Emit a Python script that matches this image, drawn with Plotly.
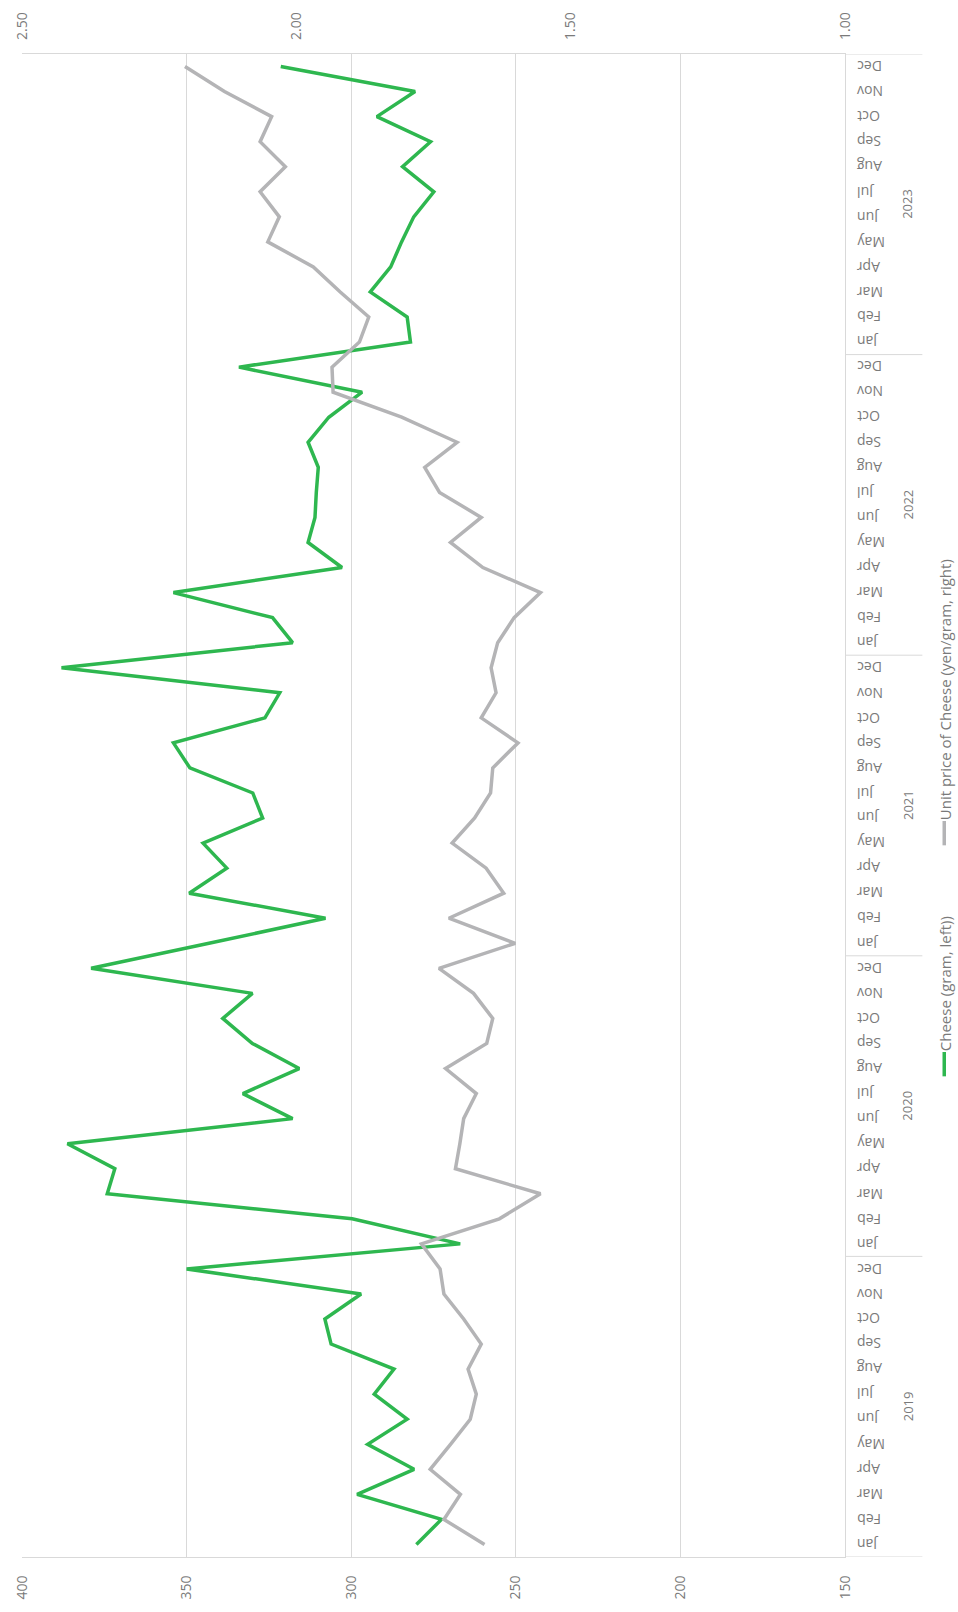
import plotly.graph_objects as go

# Monthly household cheese purchases and unit price, Jan 2019 - Dec 2023
years = ["2019", "2020", "2021", "2022", "2023"]
months = ["Jan", "Feb", "Mar", "Apr", "May", "Jun",
          "Jul", "Aug", "Sep", "Oct", "Nov", "Dec"]

# Cheese purchased (gram) - left axis
cheese_grams = [
    280.2, 272.6, 298.2, 280.9, 295.0, 283.0, 293.0, 287.0, 306.1, 308.0, 297.0, 350.0,
    266.9, 299.7, 374.1, 371.8, 386.2, 317.8, 332.9, 315.8, 330.0, 339.0, 330.0, 379.0,
    343.2, 307.8, 349.2, 337.8, 345.0, 326.9, 329.9, 349.0, 354.0, 326.2, 321.7, 388.0,
    317.8, 323.9, 354.0, 302.8, 313.1, 311.0, 310.6, 310.0, 313.1, 306.8, 296.7, 334.1,
    282.0, 283.0, 294.2, 288.0, 284.7, 281.0, 274.9, 284.4, 275.9, 292.2, 280.6, 321.4,
]

# Unit price of cheese (yen/gram) - right axis
cheese_unit_price = [
    1.657, 1.731, 1.701, 1.756, 1.719, 1.683, 1.672, 1.687, 1.663, 1.695, 1.731, 1.738,
    1.772, 1.630, 1.555, 1.710, 1.702, 1.695, 1.672, 1.728, 1.653, 1.642, 1.677, 1.740,
    1.601, 1.722, 1.622, 1.654, 1.716, 1.675, 1.646, 1.642, 1.596, 1.663, 1.636, 1.645,
    1.633, 1.603, 1.555, 1.660, 1.719, 1.663, 1.739, 1.766, 1.707, 1.808, 1.933, 1.935,
    1.885, 1.868, 1.920, 1.969, 2.052, 2.031, 2.066, 2.020, 2.066, 2.045, 2.131, 2.203,
]

left_ticks = [150, 200, 250, 300, 350, 400]
right_ticks = [1.00, 1.50, 2.00, 2.50]

series_names = ["Cheese (gram, left))", "Unit price of Cheese (yen/gram, right)"]

GREEN = "#2eb74f"
GREY = "#b4b4b6"
TEXT = "#7a7a7a"
GRID = "#d9d9d9"
FONT = "Open Sans"

n = len(cheese_grams)
pos = list(range(n))
month_labels = [months[i % 12] for i in pos]

fig = go.Figure()
fig.add_trace(go.Scatter(
    x=cheese_grams, y=pos, xaxis="x", yaxis="y", mode="lines",
    name=series_names[0], line=dict(color=GREEN, width=3.5),
))
fig.add_trace(go.Scatter(
    x=cheese_unit_price, y=pos, xaxis="x2", yaxis="y", mode="lines",
    name=series_names[1], line=dict(color=GREY, width=3.5),
))

annotations = []
shapes = []

# upside-down month labels, left-aligned just right of the category axis
for i, m in zip(pos, month_labels):
    annotations.append(dict(
        text=m, x=1.0121, xref="paper", y=i, yref="y",
        textangle=180, showarrow=False, xanchor="left", yanchor="middle",
        font=dict(family=FONT, size=14, color=TEXT),
    ))

# year labels and the separators between years
for k, yr in enumerate(years):
    annotations.append(dict(
        text=yr, x=1.0760, xref="paper", y=12 * k + 5.5, yref="y",
        textangle=-90, showarrow=False, xanchor="center", yanchor="middle",
        font=dict(family=FONT, size=13, color=TEXT),
    ))
for k in range(len(years) + 1):
    shapes.append(dict(
        type="line", xref="paper", yref="y", x0=1.0, x1=1.094,
        y0=12 * k - 0.5, y1=12 * k - 0.5, line=dict(color=GRID, width=1),
    ))

# vertical legend at the right edge: (label, colour, line bottom, line top)
legend_items = [
    (series_names[0], GREEN, 0.3198, 0.3360),
    (series_names[1], GREY, 0.4735, 0.4897),
]
for label, colour, ly0, ly1 in legend_items:
    annotations.append(dict(
        text=label, x=1.1218, xref="paper", y=ly1 - 0.001, yref="paper",
        textangle=-90, showarrow=False, xanchor="center", yanchor="bottom",
        font=dict(family=FONT, size=15, color=TEXT),
    ))
    shapes.append(dict(
        type="line", xref="paper", yref="paper", x0=1.1206, x1=1.1206,
        y0=ly0, y1=ly1, line=dict(color=colour, width=3.5),
    ))

fig.update_layout(
    width=958, height=1612,
    margin=dict(l=16, r=113, t=51, b=52),
    paper_bgcolor="white", plot_bgcolor="white",
    showlegend=False,
    font=dict(family=FONT, size=13, color=TEXT),
    xaxis=dict(
        range=[400, 150], tickvals=left_ticks, tickangle=-90,
        showgrid=True, gridcolor=GRID, gridwidth=1, zeroline=False,
        showline=True, linecolor=GRID, linewidth=1, mirror=True,
        ticks="", ticklabelstandoff=12,
        tickfont=dict(family=FONT, size=14, color=TEXT),
    ),
    xaxis2=dict(
        range=[2.5, 1.0], tickvals=right_ticks, tickformat=".2f",
        tickangle=-90, overlaying="x", side="top", anchor="y",
        showgrid=False, zeroline=False, ticks="", ticklabelstandoff=13,
        tickfont=dict(family=FONT, size=14, color=TEXT),
    ),
    yaxis=dict(
        range=[-0.5, n - 0.5], tickvals=pos, showticklabels=False,
        side="right", showgrid=False, zeroline=False,
        showline=True, linecolor=GRID, linewidth=1, ticks="",
    ),
    annotations=annotations,
    shapes=shapes,
)

fig.write_html("out.html")
